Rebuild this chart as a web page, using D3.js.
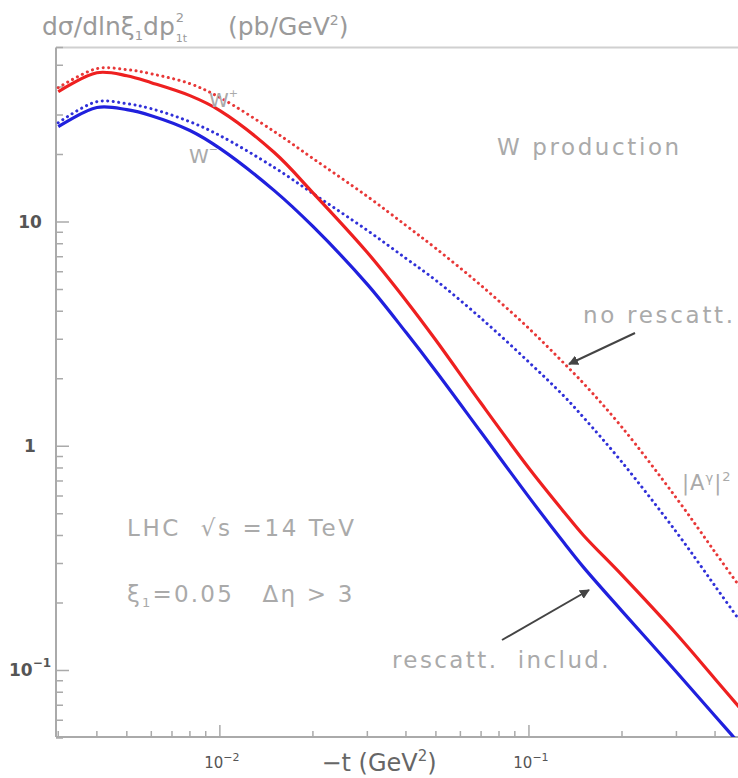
<!DOCTYPE html>
<html>
<head>
<meta charset="utf-8">
<script src="https://cdn.jsdelivr.net/npm/d3@7"></script>
<style>
  body { margin: 0; background: #fff; }
  text { font-family: "DejaVu Sans", sans-serif; white-space: pre; }
</style>
</head>
<body>
<svg id="chart" width="738" height="778"></svg>
<script>
// -t values (GeV^2) the curves were read at
var tVals = [0.003, 0.004, 0.005, 0.006, 0.008, 0.01, 0.015, 0.02, 0.03, 0.04, 0.05, 0.07, 0.1, 0.13, 0.15, 0.2, 0.3, 0.4, 0.5];

// dsigma/dln xi1 dp1t^2 (pb/GeV^2)
var wPlusNoResc = [39.7, 48.3, 47.8, 45.8, 41.4, 35.9, 25.3, 19.2, 13.0, 9.65, 7.62, 5.21, 3.35, 2.34, 1.91, 1.215, 0.587, 0.337, 0.219];
var wPlusResc = [38.1, 46.3, 44.9, 41.8, 36.6, 31.4, 20.4, 13.5, 7.31, 4.47, 2.97, 1.554, 0.798, 0.508, 0.401, 0.266, 0.1454, 0.0917, 0.064];
var wMinusNoResc = [27.7, 34.4, 33.7, 32.0, 28.0, 24.3, 17.5, 13.4, 9.17, 6.88, 5.49, 3.72, 2.37, 1.67, 1.346, 0.849, 0.414, 0.238, 0.1546];
var wMinusResc = [26.6, 32.4, 31.7, 29.8, 25.6, 21.3, 13.8, 9.55, 5.27, 3.22, 2.16, 1.154, 0.593, 0.370, 0.289, 0.184, 0.0985, 0.0627, 0.0442];

var yMajor = [0.1, 1, 10];
var xMajor = [0.01, 0.1];

var svg = d3.select('#chart');

var mLeft = 56, mRight = 745, mTop = 47.5, mBottom = 738;

var x = d3.scaleLog().domain([0.00295, 0.5]).range([mLeft, mRight]);
var y = d3.scaleLog().domain([0.05, 60]).range([mBottom, mTop]);

svg.append('clipPath').attr('id', 'plotclip')
    .append('rect')
    .attr('x', mLeft).attr('y', mTop)
    .attr('width', mRight - mLeft).attr('height', mBottom - 1 - mTop);

// frame
svg.append('line')
    .attr('x1', mLeft).attr('x2', 738).attr('y1', mTop).attr('y2', mTop)
    .attr('stroke', '#d0d0d0').attr('stroke-width', 2);
svg.append('line')
    .attr('x1', mLeft).attr('x2', mLeft).attr('y1', mTop).attr('y2', mBottom - 1)
    .attr('stroke', '#aaa').attr('stroke-width', 2);
svg.append('line')
    .attr('x1', mLeft).attr('x2', 738).attr('y1', mBottom - 1).attr('y2', mBottom - 1)
    .attr('stroke', '#aaa').attr('stroke-width', 2);

// log ticks, drawn inward
var yTicks = y.ticks();
svg.selectAll('.ytick').data(yTicks).enter().append('line')
    .attr('class', 'ytick')
    .attr('x1', mLeft)
    .attr('x2', function (d) { return yMajor.indexOf(d) >= 0 ? mLeft + 13 : mLeft + 7; })
    .attr('y1', function (d) { return y(d); })
    .attr('y2', function (d) { return y(d); })
    .attr('stroke', '#aaa').attr('stroke-width', 1.5);

var xTicks = x.ticks();
svg.selectAll('.xtick').data(xTicks).enter().append('line')
    .attr('class', 'xtick')
    .attr('x1', function (d) { return x(d); })
    .attr('x2', function (d) { return x(d); })
    .attr('y1', mBottom - 1)
    .attr('y2', function (d) { return xMajor.indexOf(d) >= 0 ? mBottom - 13 : mBottom - 7; })
    .attr('stroke', '#aaa').attr('stroke-width', 1.5);

// y tick labels
var yLab = svg.selectAll('.ylab').data(yMajor).enter().append('text')
    .attr('class', 'ylab')
    .attr('x', 30)
    .attr('y', function (d) { return y(d) + 6; })
    .attr('text-anchor', 'middle')
    .attr('font-family', 'Liberation Sans, Arial, sans-serif')
    .attr('font-weight', 'bold')
    .attr('font-size', 17)
    .attr('fill', '#555');
yLab.each(function (d) {
    var t = d3.select(this);
    if (d === 0.1) {
        t.append('tspan').text('10');
        t.append('tspan').attr('dy', -9).attr('font-size', 12).text('\u22121');
    } else {
        t.text(d);
    }
});

// x tick labels
var xLab = svg.selectAll('.xlab').data(xMajor).enter().append('text')
    .attr('class', 'xlab')
    .attr('x', function (d) { return x(d) + 2; })
    .attr('y', 768)
    .attr('text-anchor', 'middle')
    .attr('font-family', 'Liberation Sans, Arial, sans-serif')
    .attr('font-size', 15)
    .attr('fill', '#555');
xLab.append('tspan').text('10');
xLab.append('tspan').attr('dy', -7).attr('font-size', 11)
    .text(function (d) { return d === 0.01 ? '\u22122' : '\u22121'; });

// axis title
var xt = svg.append('text')
    .attr('x', 379).attr('y', 771)
    .attr('text-anchor', 'middle')
    .attr('font-size', 24)
    .attr('fill', '#666');
xt.append('tspan').text('\u2212t (GeV');
xt.append('tspan').attr('dy', -10).attr('font-size', 15).text('2');
xt.append('tspan').attr('dy', 10).text(')');

// y title
var yt = svg.append('text')
    .attr('x', 42).attr('y', 35)
    .attr('font-size', 25)
    .attr('fill', '#9a9a9a');
yt.append('tspan').text('d\u03c3/dln\u03be');
yt.append('tspan').attr('dy', 5).attr('font-size', 13).text('1');
yt.append('tspan').attr('dy', -5).text('dp');
var endX = yt.node().getComputedTextLength() + 42;
svg.append('text').attr('x', endX + 1).attr('y', 22)
    .attr('font-size', 13).attr('fill', '#9a9a9a').text('2');
svg.append('text').attr('x', endX + 1).attr('y', 42)
    .attr('font-size', 11).attr('fill', '#9a9a9a').text('1t');
var yt2 = svg.append('text')
    .attr('x', 228).attr('y', 35)
    .attr('font-size', 25)
    .attr('fill', '#9a9a9a');
yt2.append('tspan').text('(pb/GeV');
yt2.append('tspan').attr('dy', -10).attr('font-size', 14).text('2');
yt2.append('tspan').attr('dy', 10).text(')');

// curves
var series = [
    {vals: wPlusNoResc, color: '#e83838', dotted: true},
    {vals: wMinusNoResc, color: '#3030d8', dotted: true},
    {vals: wPlusResc, color: '#ee2020', dotted: false},
    {vals: wMinusResc, color: '#2020dd', dotted: false}
];

var line = d3.line()
    .x(function (d) { return x(d[0]); })
    .y(function (d) { return y(d[1]); })
    .curve(d3.curveCatmullRom.alpha(0.5));

var plot = svg.append('g').attr('clip-path', 'url(#plotclip)');
plot.selectAll('path').data(series).enter().append('path')
    .attr('d', function (s) { return line(tVals.map(function (t, i) { return [t, s.vals[i]]; })); })
    .attr('fill', 'none')
    .attr('stroke', function (s) { return s.color; })
    .attr('stroke-width', function (s) { return s.dotted ? 3 : 3.2; })
    .attr('stroke-linecap', function (s) { return s.dotted ? 'round' : 'butt'; })
    .attr('stroke-dasharray', function (s) { return s.dotted ? '0.1,5.4' : null; });

// annotations
function note(tx, ty, str, size, spacing) {
    return svg.append('text')
        .attr('x', tx).attr('y', ty)
        .attr('font-size', size)
        .attr('letter-spacing', spacing || 0)
        .attr('fill', '#aaa')
        .text(str);
}

note(497, 155, 'W production', 23, 2.6);
note(583, 323, 'no rescatt.', 23, 2.7);
note(392, 668, 'rescatt.  includ.', 23, 2.4);
note(127, 536, 'LHC  \u221as =14 TeV', 23, 2.6);

var xi = note(127, 602, '', 23, 2.2);
xi.append('tspan').text('\u03be');
xi.append('tspan').attr('dy', 5).attr('font-size', 13).text('1');
xi.append('tspan').attr('dy', -5).text('=0.05   \u0394\u03b7 > 3');

var wp = note(209, 107, 'W', 20);
wp.append('tspan').attr('dy', -10).attr('font-size', 11).text('+');
var wm = note(189, 163, 'W', 20);
wm.append('tspan').attr('dy', -10).attr('font-size', 11).text('\u2212');

var amp = note(682, 490, '|A', 21, 1);
amp.append('tspan').attr('dy', -8).attr('font-size', 13).text('\u03b3');
amp.append('tspan').attr('dy', 8).text('|');
amp.append('tspan').attr('dy', -9).attr('font-size', 13).text('2');

// arrows
svg.append('defs').append('marker')
    .attr('id', 'head')
    .attr('viewBox', '0 0 10 10')
    .attr('refX', 9).attr('refY', 5)
    .attr('markerWidth', 5).attr('markerHeight', 5)
    .attr('orient', 'auto')
    .append('path')
    .attr('d', 'M0,0 L10,5 L0,10 Z')
    .attr('fill', '#444');

svg.append('line')
    .attr('x1', 635).attr('y1', 333).attr('x2', 569).attr('y2', 364)
    .attr('stroke', '#444').attr('stroke-width', 2)
    .attr('marker-end', 'url(#head)');
svg.append('line')
    .attr('x1', 502).attr('y1', 640).attr('x2', 589).attr('y2', 590)
    .attr('stroke', '#444').attr('stroke-width', 2)
    .attr('marker-end', 'url(#head)');
</script>
</body>
</html>
